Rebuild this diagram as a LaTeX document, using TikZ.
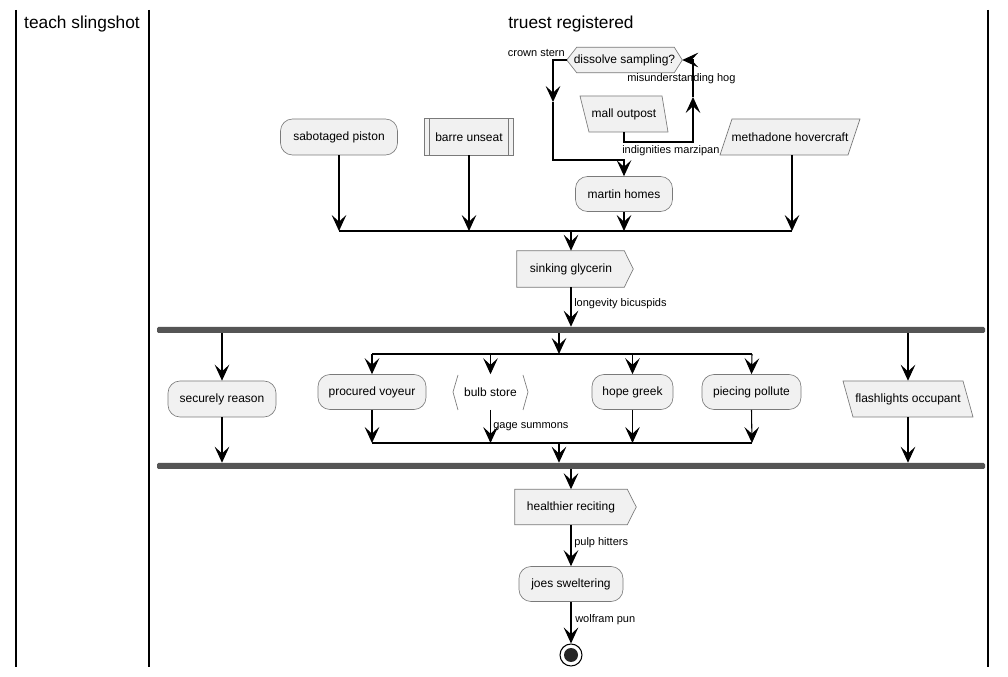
\documentclass[tikz,border=0pt]{standalone}
\usepackage{fontspec}
\setmainfont{Liberation Sans}
\usetikzlibrary{arrows.meta,calc}
\definecolor{nfill}{HTML}{F1F1F1}
\definecolor{nline}{HTML}{7A7A7A}
\definecolor{barcol}{HTML}{555555}
\def\u{0.75pt}
\tikzset{
  txt/.style={font=\fontsize{9pt}{11pt}\selectfont, inner sep=0pt, align=center},
  act/.style={txt, draw=nline, fill=nfill, line width=0.5pt, rounded corners=9pt},
  plain/.style={txt},
  shp/.style={draw=nline, fill=nfill, line width=0.5pt},
  arr/.style={line width=0.8pt, -{Stealth[length=12pt,width=11pt,inset=5pt]}},
  ln/.style={line width=0.8pt},
  lbl/.style={font=\fontsize{8.25pt}{10pt}\selectfont, inner sep=0pt},
  title/.style={font=\fontsize{13pt}{15pt}\selectfont, inner sep=0pt},
  bar/.style={fill=barcol, inner sep=0pt, minimum height=6*\u, rounded corners=1pt},
  lane/.style={line width=1pt}
}
\begin{document}
\begin{tikzpicture}[x=0.75pt,y=-0.75pt]
\useasboundingbox[fill=white] (0,0) rectangle (1008,677);
% swimlanes
\draw[lane] (16,10) -- (16,667);
\draw[lane] (149,10) -- (149,667);
\draw[lane] (988,10) -- (988,667);
\node[title] (t1) at (82,24) {teach slingshot};
\node[title] (t2) at (571,24) {truest registered};

% decision
\node[plain, minimum width=115*\u, minimum height=25*\u] (dec) at (624.5,60) {};
\draw[shp] (dec.west) -- ($(dec.north west)+(10,0)$) -- ($(dec.north east)+(-8,0)$) -- (dec.east) -- ($(dec.south east)+(-8,0)$) -- ($(dec.south west)+(10,0)$) -- cycle;
\node[plain] at (dec.center) {dissolve sampling?};
\node[lbl, anchor=east] (lcs) at (565,53) {crown stern};

% mall outpost
\node[plain, minimum width=80*\u, minimum height=36*\u] (mall) at (624,114) {};
\draw[shp] (580,96) -- (662,96) -- (668,132) -- (589,132) -- cycle;
\node[plain] at (624,114) {mall outpost};

% martin homes
\node[act, minimum width=97*\u, minimum height=35*\u] (martin) at (624,194) {martin homes};

% loop connectors
\coordinate (lA) at (553,102);
\coordinate (lB) at (553,160);
\draw[arr] (dec.west) -| (lA);
\draw[arr] (lA) -- (lB) -| (martin.north);
\coordinate (rA) at (693,97);
\coordinate (rB) at (693,142);
\draw[arr] (mall.south) |- (rB) -- (rA);
\draw[arr] (rA) |- (dec.east);
\node[lbl, anchor=west] (lmh) at (627,79) {misunderstanding hog};
\node[lbl, anchor=west] (lim) at (622,151) {indignities marzipan};

% top row
\node[act, minimum width=117*\u, minimum height=36*\u] (sab) at (339,137) {sabotaged piston};
\node[plain, minimum width=88*\u, minimum height=36*\u] (barre) at (469,137) {};
\draw[shp] (barre.north west) rectangle (barre.south east);
\draw[nline, line width=0.5pt] ($(barre.north west)+(5,0)$) -- ($(barre.south west)+(5,0)$);
\draw[nline, line width=0.5pt] ($(barre.north east)+(-5,0)$) -- ($(barre.south east)+(-5,0)$);
\node[plain] at (469,137) {barre unseat};
\node[plain, minimum width=128*\u, minimum height=36*\u] (meth) at (792,137) {};
\draw[shp] (732,119) -- (860,119) -- (848,155) -- (720,155) -- cycle;
\node[plain] at (790,137) {methadone hovercraft};

% merge 1
\coordinate (m1L) at (339,231);
\coordinate (m1R) at (792,231);
\draw[ln] (m1L) -- (m1R);
\draw[arr] (sab.south) -- (sab.south |- m1L);
\draw[arr] (barre.south) -- (barre.south |- m1L);
\draw[arr] (martin.south) -- (martin.south |- m1L);
\draw[arr] (meth.south) -- (meth.south |- m1L);

% sinking glycerin
\node[plain, minimum width=108*\u, minimum height=36*\u] (glyc) at (571,269) {};
\draw[shp] (glyc.north west) -- ($(glyc.north east)+(-1,0)$) -- ($(glyc.east)+(8,0)$) -- ($(glyc.south east)+(-1,0)$) -- (glyc.south west) -- cycle;
\node[plain] at (571,269) {sinking glycerin};
\draw[arr] (glyc.north |- m1L) -- (glyc.north);

% fork bar
\node[bar, minimum width=828*\u] (fork) at (571,330) {};
\draw[arr] (glyc.south) -- (fork.north -| glyc.south);
\node[lbl, anchor=west] (llb) at (574,304) {longevity bicuspids};

% branches
\node[act, minimum width=108*\u, minimum height=36*\u] (secure) at (222,399) {securely reason};
\node[act, minimum width=108*\u, minimum height=35*\u] (proc) at (372,392) {procured voyeur};
\node[plain, minimum width=75*\u, minimum height=35*\u] (bulb) at (490.5,392) {bulb store};
\draw[nline, line width=0.5pt] (458,375) -- (453,392) -- (458,410);
\draw[nline, line width=0.5pt] (523,375) -- (528,392) -- (523,410);
\node[act, minimum width=81*\u, minimum height=35*\u] (hope) at (632.5,392) {hope greek};
\node[act, minimum width=99*\u, minimum height=35*\u] (pierce) at (751.5,392) {piecing pollute};
\node[plain, minimum width=120*\u, minimum height=36*\u] (flash) at (908,399) {};
\draw[shp] (843,381) -- (963,381) -- (973,417) -- (853,417) -- cycle;
\node[plain] at (908,399) {flashlights occupant};

% join bar
\node[bar, minimum width=828*\u] (join) at (571,466) {};

\draw[arr] (fork.south -| secure.north) -- (secure.north);
\draw[arr] (secure.south) -- (join.north -| secure.south);
\draw[arr] (fork.south -| flash.north) -- (flash.north);
\draw[arr] (flash.south) -- (join.north -| flash.south);

% inner fork
\coordinate (ifL) at (372,354);
\coordinate (ifR) at (752,354);
\coordinate (ifC) at (559,354);
\draw[arr] (fork.south -| ifC) -- (ifC);
\draw[ln] (ifL) -- (ifR);
\draw[arr] (ifL) -- (proc.north);
\draw[arr] (ifL -| bulb.north) -- (bulb.north);
\draw[arr] (ifL -| hope.north) -- (hope.north);
\draw[arr] (ifR) -- (pierce.north);

% inner join
\coordinate (ijL) at (372,443);
\coordinate (ijR) at (752,443);
\coordinate (ijC) at (559,443);
\draw[ln] (ijL) -- (ijR);
\draw[arr] (proc.south) -- (ijL);
\draw[arr] (bulb.south) -- (ijL -| bulb.south);
\node[lbl, anchor=west] (lgs) at (493,427) {gage summons};
\draw[arr] (hope.south) -- (ijL -| hope.south);
\draw[arr] (pierce.south) -- (ijR);
\draw[arr] (ijC) -- (join.north -| ijC);

% healthier reciting
\node[plain, minimum width=112*\u, minimum height=35*\u] (heal) at (571,507) {};
\draw[shp] (heal.north west) -- (heal.north east) -- ($(heal.east)+(9,0)$) -- (heal.south east) -- (heal.south west) -- cycle;
\node[plain] at (571,507) {healthier reciting};
\draw[arr] (join.south -| heal.north) -- (heal.north);

% joes sweltering
\node[act, minimum width=104*\u, minimum height=35*\u] (joes) at (571,584) {joes sweltering};
\draw[arr] (heal.south) -- (joes.north);
\node[lbl, anchor=west] (lph) at (574,543) {pulp hitters};

% stop
\node[circle, draw=black, line width=0.8pt, fill=white, minimum size=22*\u, inner sep=0pt] (stop) at (571,655) {};
\fill[black!85] (stop.center) circle (7);
\draw[arr] (joes.south) -- (stop.north);
\node[lbl, anchor=west] (lwp) at (575,620) {wolfram pun};
\end{tikzpicture}
\end{document}
